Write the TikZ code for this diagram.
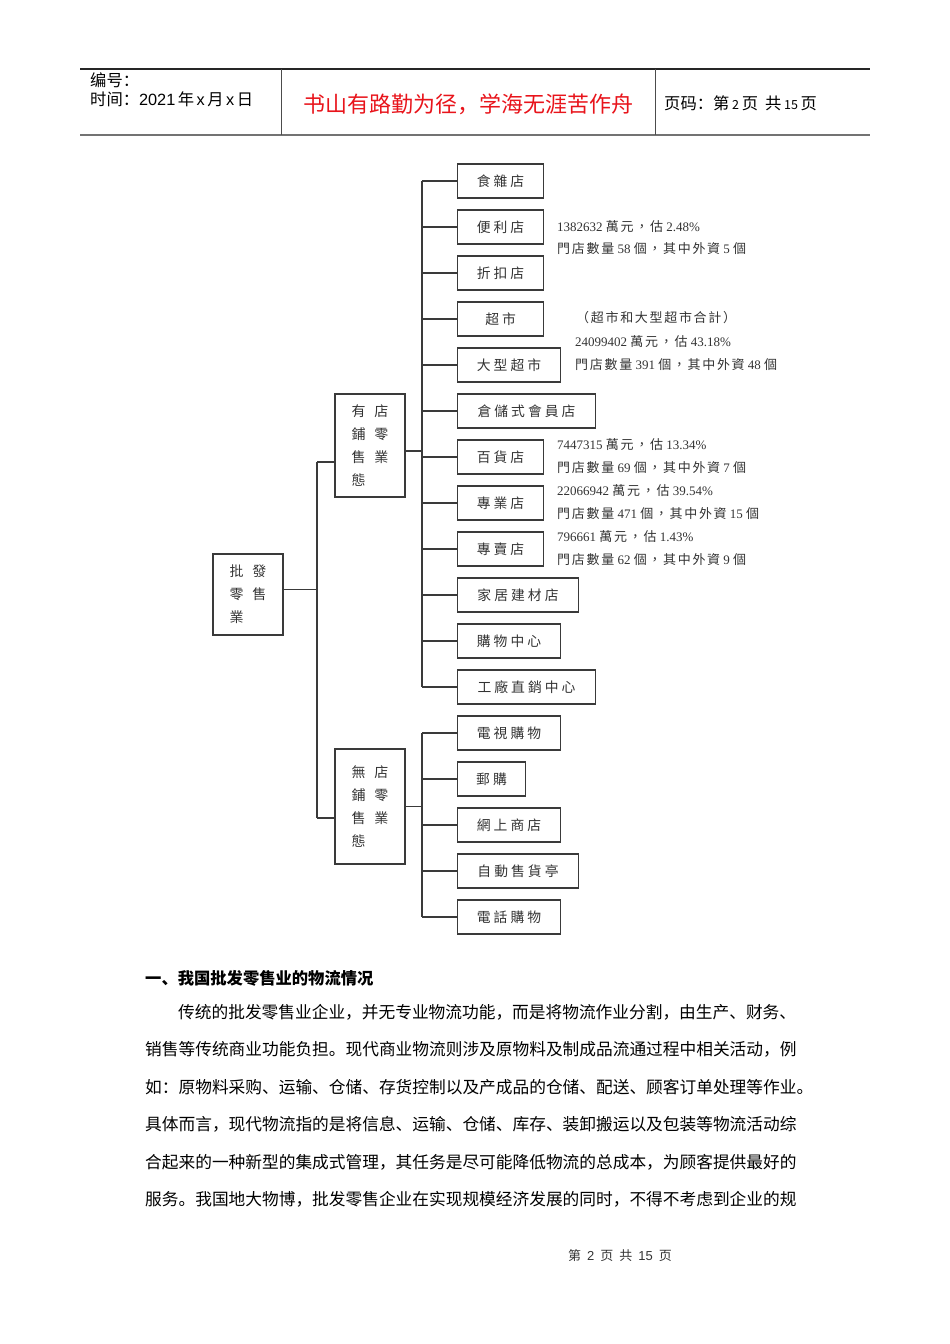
\documentclass[tikz,border=0pt]{standalone}
\usepackage{fontspec}
\setmainfont{Liberation Serif}
\newfontfamily\cjksc{Noto Sans CJK SC}
\newfontfamily\cjktc{Noto Sans CJK TC}
\newfontfamily\cjktcs[LetterSpace=22]{Noto Sans CJK TC}
\newfontfamily\cjkta[LetterSpace=13]{Noto Sans CJK TC}
\newfontfamily\hsans{Liberation Sans}
\definecolor{linec}{HTML}{3A3A3A}
\definecolor{txtc}{HTML}{333333}
\definecolor{redt}{HTML}{E8141B}
\begin{document}
\begin{tikzpicture}[x=1pt,y=-1pt,
  conn/.style={draw=linec, line width=1.1pt},
  leafbox/.style={draw=linec, line width=1.1pt, minimum height=34pt, inner sep=0pt, anchor=west,
    text=txtc, font=\cjktcs\fontsize{13.8}{16}\selectfont},
  parbox/.style={draw=linec, line width=1.1pt, inner sep=0pt, align=left,
    text=txtc, font=\cjktc\fontsize{14}{23}\selectfont},
  ann/.style={anchor=west, inner sep=0pt, text=txtc, font=\fontsize{13}{15}\selectfont},
  para/.style={anchor=west, inner sep=0pt, text=black, font=\cjksc\fontsize{16.7}{20}\selectfont},
  hdr/.style={anchor=west, inner sep=0pt, text=black, font=\cjksc\fontsize{16.3}{19}\selectfont}
]
\useasboundingbox (0,0) rectangle (950,1344);

% ---------- header ----------
\coordinate (hTL) at (80,69);
\coordinate (hTR) at (870,69);
\coordinate (hBL) at (80,135);
\coordinate (hBR) at (870,135);
\coordinate (v1t) at (281,69);
\coordinate (v1b) at (281,135);
\coordinate (v2t) at (655,69);
\coordinate (v2b) at (655,135);
\draw[draw=black!85, line width=1.3pt] (hTL) -- (hTR);
\draw[draw=black!55, line width=2pt] (hBL) -- (hBR);
\draw[draw=black!70, line width=1pt] (v1t) -- (v1b);
\draw[draw=black!70, line width=1pt] (v2t) -- (v2b);
\node[hdr] (bh) at (90,80) {编号：};
\node[hdr] (sj) at (90,99) {时间：{\hsans 2021}\hspace{2.5pt}年\hspace{2.5pt}{\hsans x}\hspace{2.5pt}月\hspace{2.5pt}{\hsans x}\hspace{2.5pt}日};
\node[anchor=center, inner sep=0pt, text=redt, font=\cjksc\fontsize{22}{26}\selectfont] (title) at (468,104) {书山有路勤为径，学海无涯苦作舟};
\node[hdr] (ym) at (664,103) {页码：第\,{\fontsize{12.5}{14}\selectfont 2}\,页\hspace{7pt}共\,{\fontsize{12.5}{14}\selectfont 15}\,页};

% ---------- tree ----------
\node[parbox, minimum width=70pt, minimum height=81pt] (root) at (248,594.5) {批\hspace{9pt}發\\零\hspace{9pt}售\\業};
\node[parbox, minimum width=70pt, minimum height=103pt] (p1) at (370,445.5) {有\hspace{9pt}店\\鋪\hspace{9pt}零\\售\hspace{9pt}業\\態};
\node[parbox, minimum width=70pt, minimum height=115pt] (p2) at (370,806.5) {無\hspace{9pt}店\\鋪\hspace{9pt}零\\售\hspace{9pt}業\\態};

\node[leafbox, minimum width=86pt] (c1) at (457,181) {食雜店};
\node[leafbox, minimum width=86pt] (c2) at (457,227) {便利店};
\node[leafbox, minimum width=86pt] (c3) at (457,273) {折扣店};
\node[leafbox, minimum width=86pt] (c4) at (457,319) {超\hspace{3pt}市};
\node[leafbox, minimum width=103pt] (c5) at (457,365) {大型超市};
\node[leafbox, minimum width=138pt] (c6) at (457,411) {倉儲式會員店};
\node[leafbox, minimum width=86pt] (c7) at (457,457) {百貨店};
\node[leafbox, minimum width=86pt] (c8) at (457,503) {專業店};
\node[leafbox, minimum width=86pt] (c9) at (457,549) {專賣店};
\node[leafbox, minimum width=121pt] (c10) at (457,595) {家居建材店};
\node[leafbox, minimum width=103pt] (c11) at (457,641) {購物中心};
\node[leafbox, minimum width=138pt] (c12) at (457,687) {工廠直銷中心};

\node[leafbox, minimum width=103pt] (d1) at (457,733) {電視購物};
\node[leafbox, minimum width=68pt] (d2) at (457,779) {郵購};
\node[leafbox, minimum width=103pt] (d3) at (457,825) {網上商店};
\node[leafbox, minimum width=121pt] (d4) at (457,871) {自動售貨亭};
\node[leafbox, minimum width=103pt] (d5) at (457,917) {電話購物};

\coordinate (busL) at (317,0);
\coordinate (busA) at (422,0);
\coordinate (rOut) at ([yshift=5pt]root.east);
\coordinate (p1In) at ([yshift=-16.5pt]p1.west);
\coordinate (p1Out) at ([yshift=-5.5pt]p1.east);
\coordinate (p2In) at ([yshift=-11.5pt]p2.west);
\coordinate (p2Out) at (p2.east);

\draw[conn] (rOut) -- (rOut -| busL);
\draw[conn] (busL |- p1In) -- (busL |- p2In);
\draw[conn] (busL |- p1In) -- (p1In);
\draw[conn] (busL |- p2In) -- (p2In);

\draw[conn] (p1Out) -- (p1Out -| busA);
\draw[conn] (busA |- c1.west) -- (busA |- c12.west);
\foreach \n in {c1,c2,c3,c4,c5,c6,c7,c8,c9,c10,c11,c12}
  \draw[conn] (busA |- \n.west) -- (\n.west);

\draw[conn] (p2Out) -- (p2Out -| busA);
\draw[conn] (busA |- d1.west) -- (busA |- d5.west);
\foreach \n in {d1,d2,d3,d4,d5}
  \draw[conn] (busA |- \n.west) -- (\n.west);

% ---------- annotations ----------
\node[ann] (a1) at (557,227) {1382632 {\cjkta 萬元，估} 2.48\%};
\node[ann] (a2) at (557,249) {{\cjkta 門店數量} 58 {\cjkta 個，其中外資} 5 {\cjkta 個}};
\node[ann] (a3) at (576,318) {{\cjkta （超市和大型超市合計）}};
\node[ann] (a4) at (575,342) {24099402 {\cjkta 萬元，估} 43.18\%};
\node[ann] (a5) at (575,365) {{\cjkta 門店數量} 391 {\cjkta 個，其中外資} 48 {\cjkta 個}};
\node[ann] (a6) at (557,445) {7447315 {\cjkta 萬元，估} 13.34\%};
\node[ann] (a7) at (557,468) {{\cjkta 門店數量} 69 {\cjkta 個，其中外資} 7 {\cjkta 個}};
\node[ann] (a8) at (557,491) {22066942 {\cjkta 萬元，估} 39.54\%};
\node[ann] (a9) at (557,514) {{\cjkta 門店數量} 471 {\cjkta 個，其中外資} 15 {\cjkta 個}};
\node[ann] (a10) at (557,537) {796661 {\cjkta 萬元，估} 1.43\%};
\node[ann] (a11) at (557,560) {{\cjkta 門店數量} 62 {\cjkta 個，其中外資} 9 {\cjkta 個}};

% ---------- body text ----------
\node[anchor=west, inner sep=0pt, font=\cjksc\bfseries\fontsize{16.3}{19}\selectfont] (h1) at (145,978) {一、我国批发零售业的物流情况};
\node[para] (l1) at (178,1012) {传统的批发零售业企业，并无专业物流功能，而是将物流作业分割，由生产、财务、};
\node[para] (l2) at (145,1049) {销售等传统商业功能负担。现代商业物流则涉及原物料及制成品流通过程中相关活动，例};
\node[para] (l3) at (145,1087) {如：原物料采购、运输、仓储、存货控制以及产成品的仓储、配送、顾客订单处理等作业。};
\node[para] (l4) at (145,1124) {具体而言，现代物流指的是将信息、运输、仓储、库存、装卸搬运以及包装等物流活动综};
\node[para] (l5) at (145,1162) {合起来的一种新型的集成式管理，其任务是尽可能降低物流的总成本，为顾客提供最好的};
\node[para] (l6) at (145,1199) {服务。我国地大物博，批发零售企业在实现规模经济发展的同时，不得不考虑到企业的规};

% ---------- footer ----------
\node[anchor=center, inner sep=0pt, text=black!80, font=\cjksc\fontsize{13}{15}\selectfont] (ft) at (620,1256) {第\hspace{6pt}{\hsans 2}\hspace{6pt}页\hspace{6pt}共\hspace{6pt}{\hsans 15}\hspace{6pt}页};
\end{tikzpicture}
\end{document}
